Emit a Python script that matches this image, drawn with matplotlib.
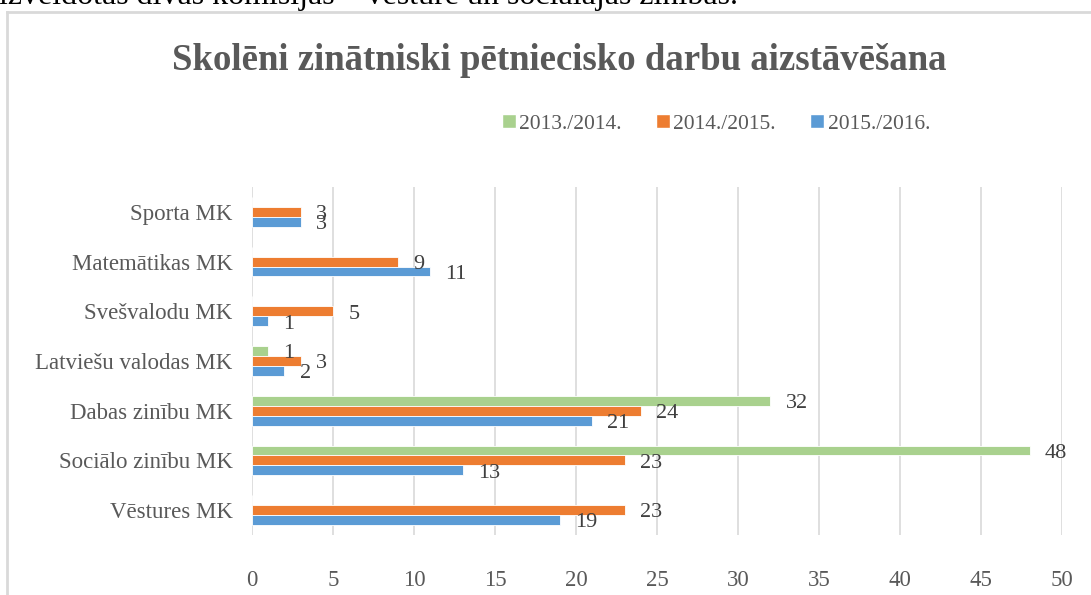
import matplotlib
matplotlib.use("Agg")
import matplotlib.pyplot as plt
from matplotlib.patches import Patch
from matplotlib.lines import Line2D
import numpy as np

categories = ["Vēstures MK", "Sociālo zinību MK", "Dabas zinību MK",
              "Latviešu valodas MK", "Svešvalodu MK", "Matemātikas MK", "Sporta MK"]
series_names = ["2013./2014.", "2014./2015.", "2015./2016."]
v_2013 = [0, 48, 32, 1, 0, 0, 0]
v_2014 = [23, 23, 24, 3, 5, 9, 3]
v_2015 = [19, 13, 21, 2, 1, 11, 3]
colors = ["#A9D18E", "#ED7D31", "#5B9BD5"]
x_ticks = [0, 5, 10, 15, 20, 25, 30, 35, 40, 45, 50]
title = "Skolēni zinātniski pētniecisko darbu aizstāvēšana"
top_text = "izveidotas divas komisijas – vēsture un sociālajās zinības."

plt.rcParams['font.family'] = ['Liberation Serif', 'DejaVu Serif']
text_color = "#595959"

W, H = 1091, 595
fig = plt.figure(figsize=(W / 100, H / 100), dpi=100)
ax = fig.add_axes([252 / W, 1 - 535 / H, (1062 - 252) / W, (535 - 187) / H])

y = np.arange(len(categories))
bh = 0.2
offsets = [bh, 0, -bh]
all_vals = [v_2013, v_2014, v_2015]
for vals, off, col in zip(all_vals, offsets, colors):
    ax.barh(y + off, vals, height=bh, color=col, edgecolor="white", linewidth=0.6, zorder=3)
    for yi, v in zip(y, vals):
        if v > 0:
            ax.annotate(str(v), xy=(v, yi + off), xytext=(11, -2), textcoords="offset points",
                        ha="left", va="center", fontsize=16, color="#404040", zorder=4)

ax.set_xlim(0, 50)
ax.set_ylim(-0.5, len(categories) - 0.5)
ax.set_xticks(x_ticks)
ax.set_yticks(y)
ax.set_yticklabels(categories)
ax.grid(axis="x", color="#D9D9D9", linewidth=1.2, zorder=0)
ax.set_axisbelow(True)
for s in ax.spines.values():
    s.set_visible(False)
ax.tick_params(axis="both", length=0, labelsize=16.5, labelcolor=text_color)
ax.tick_params(axis="x", pad=25)
ax.tick_params(axis="y", pad=14)

fig.text(559 / W, 1 - 60 / H, title, ha="center", va="center", fontsize=26.5,
         fontweight="bold", color=text_color)

handles = [Patch(facecolor=c, edgecolor="white") for c in colors]
fig.legend(handles, series_names, loc="center", bbox_to_anchor=(716 / W, 1 - 124 / H),
           ncol=3, frameon=False, fontsize=15.5, handlelength=0.65, handleheight=0.65,
           handletextpad=0.15, columnspacing=1.6, labelcolor=text_color)

# chart frame (light grey border, cut at right and bottom)
fig.add_artist(Line2D([7 / W, 1.0], [1 - 12 / H, 1 - 12 / H], transform=fig.transFigure,
                      color="#D9D9D9", linewidth=2))
fig.add_artist(Line2D([7 / W, 7 / W], [0, 1 - 12 / H], transform=fig.transFigure,
                      color="#D9D9D9", linewidth=2))

fig.text(-1 / W, 1 - 4 / H, top_text, ha="left", va="baseline", fontsize=23, color="black")

fig.savefig("out.png", dpi=100)
